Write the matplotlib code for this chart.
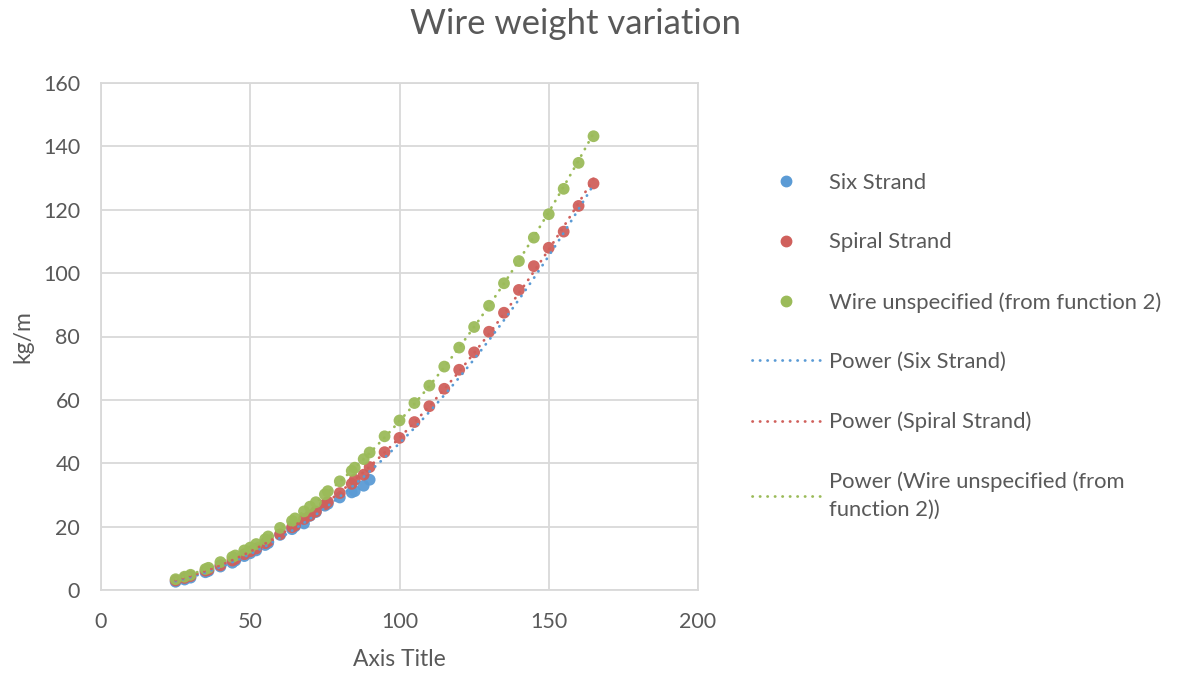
import numpy as np
import matplotlib
matplotlib.use("Agg")
import matplotlib.pyplot as plt
from matplotlib.lines import Line2D

plt.rcParams['font.family'] = ['Lato', 'DejaVu Sans']

title = "Wire weight variation"
x_label = "Axis Title"
y_label = "kg/m"

x_six = [25, 28, 30, 35, 36, 40, 44, 45, 48, 50, 52, 55, 56, 60, 64, 65, 68, 70, 72, 75, 76, 80, 84, 85, 88, 90]
y_six = [2.6, 3.3, 3.9, 5.6, 6.0, 7.4, 8.6, 9.3, 10.7, 11.6, 12.5, 14.2, 14.8, 17.4, 19.2, 20.1, 21.0, 23.4, 24.6, 26.6, 27.2, 29.2, 30.8, 31.2, 32.9, 34.8]

x_spiral = [25, 28, 30, 35, 36, 40, 44, 45, 48, 50, 52, 55, 56, 60, 64, 65, 68, 70, 72, 75, 76, 80, 84, 85, 88, 90,
            95, 100, 105, 110, 115, 120, 125, 130, 135, 140, 145, 150, 155, 160, 165]
y_spiral = [3.0, 3.8, 4.4, 6.1, 6.4, 7.8, 9.3, 9.8, 11.3, 12.2, 13.1, 14.8, 15.4, 17.6, 19.8, 20.4, 22.4, 23.5, 24.8, 27.0, 27.8, 30.6, 33.5, 34.8, 36.4, 38.8,
            43.5, 48.0, 53.0, 58.0, 63.5, 69.5, 75.0, 81.5, 87.5, 94.7, 102.2, 108.0, 113.1, 121.2, 128.3]

x_wire = [25, 28, 30, 35, 36, 40, 44, 45, 48, 50, 52, 55, 56, 60, 64, 65, 68, 70, 72, 75, 76, 80, 84, 85, 88, 90,
          95, 100, 105, 110, 115, 120, 125, 130, 135, 140, 145, 150, 155, 160, 165]
y_wire = [3.4, 4.2, 4.8, 6.6, 7.0, 8.8, 10.4, 10.9, 12.5, 13.4, 14.5, 16.0, 16.9, 19.6, 21.8, 22.6, 24.8, 26.3, 27.7, 30.2, 31.2, 34.3, 37.6, 38.6, 41.3, 43.4,
          48.5, 53.5, 59.0, 64.5, 70.5, 76.5, 83.0, 89.7, 96.8, 103.8, 111.2, 118.6, 126.6, 134.8, 143.2]

series_names = ["Six Strand", "Spiral Strand", "Wire unspecified (from function 2)"]
trend_names = ["Power (Six Strand)", "Power (Spiral Strand)", "Power (Wire unspecified (from\nfunction 2))"]
colors = ["#5b9bd5", "#d0605c", "#9bbb59"]
x_ticks = [0, 50, 100, 150, 200]
y_ticks = [0, 20, 40, 60, 80, 100, 120, 140, 160]

txt = "#595959"
grid = "#d9d9d9"
dot_style = (0, (0.1, 2.6))

fig = plt.figure(figsize=(11.79, 6.74), dpi=100)
ax = fig.add_axes([101/1179, 1-590/674, (698-101)/1179, (590-83)/674])

data = [(x_six, y_six), (x_spiral, y_spiral), (x_wire, y_wire)]
xfit = np.linspace(25, 165, 300)
for i, ((xs, ys), c) in enumerate(zip(data, colors)):
    ax.scatter(xs, ys, s=72, color=c, alpha=0.95, edgecolors='none', zorder=3 + i)
for i, ((xs, ys), c) in enumerate(zip(data, colors)):
    b, lna = np.polyfit(np.log(xs), np.log(ys), 1)
    ax.plot(xfit, np.exp(lna) * xfit ** b, color=c, lw=2.0, linestyle=dot_style,
            dash_capstyle='round', zorder=7)

ax.set_xlim(0, 200)
ax.set_ylim(0, 160)
ax.set_xticks(x_ticks)
ax.set_yticks(y_ticks)
ax.grid(True, color=grid, lw=1.3)
ax.set_axisbelow(True)
for s in ax.spines.values():
    s.set_color(grid)
    s.set_linewidth(1.3)
ax.tick_params(axis='y', length=0, labelsize=15.5, labelcolor=txt, pad=15)
ax.tick_params(axis='x', length=0, labelsize=15.5, labelcolor=txt, pad=16)
ax.set_xlabel(x_label, fontsize=16.5, color=txt, labelpad=12)
ax.set_ylabel(y_label, fontsize=16.5, color=txt, labelpad=7)

fig.text(576/1179, 1-24/674, title, ha='center', va='center', fontsize=25, color=txt)

handles = [Line2D([], [], ls='none', marker='o', markersize=7.5, color=c) for c in colors]
handles += [Line2D([], [], color=c, lw=2.0, linestyle=dot_style, dash_capstyle='round') for c in colors]
leg = fig.legend(handles, series_names + trend_names, loc='upper left',
                 bbox_to_anchor=(752/1179, 1-173/674), frameon=False,
                 fontsize=15.8, labelspacing=1.8, handlelength=3.1, handletextpad=0.42,
                 borderpad=0, borderaxespad=0)
for t in leg.get_texts():
    t.set_color(txt)
leg.get_texts()[-1].set_linespacing(1.45)

fig.savefig("out.png", dpi=100)
